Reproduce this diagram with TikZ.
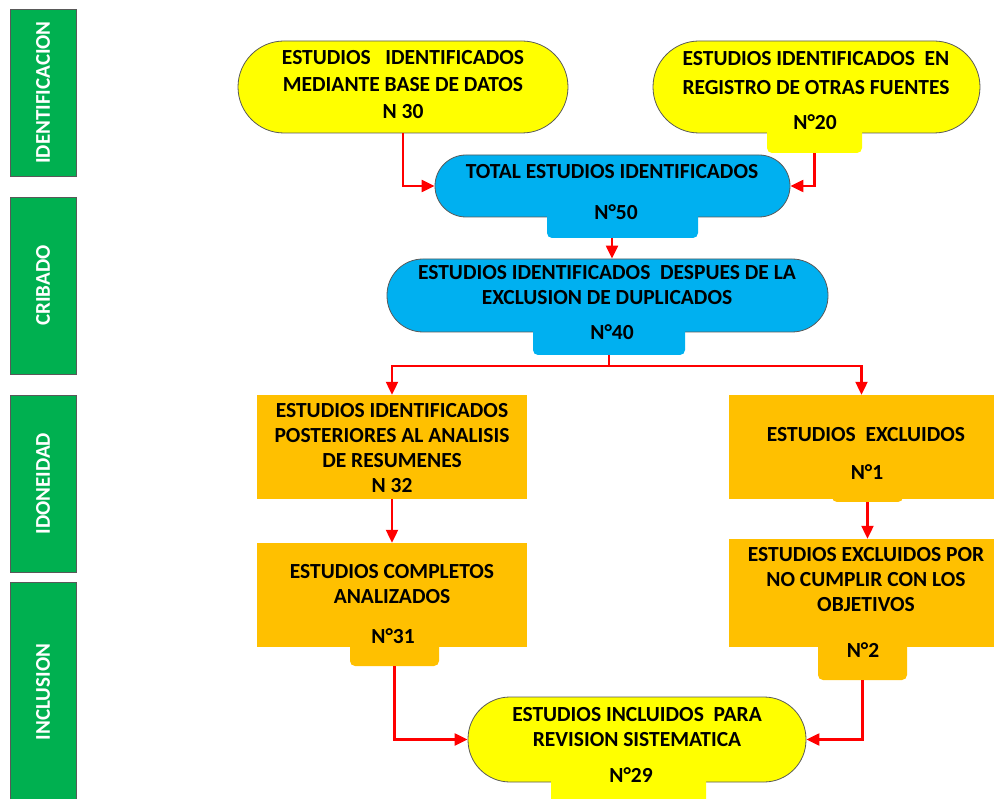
\documentclass[tikz,border=0pt]{standalone}
\usepackage{fontspec}
\setmainfont{Carlito}
\usetikzlibrary{arrows.meta}
\definecolor{ylw}{HTML}{FFFF00}
\definecolor{blu}{HTML}{00B0F0}
\definecolor{org}{HTML}{FFC000}
\definecolor{grn}{HTML}{00B050}
\definecolor{edge}{HTML}{595959}
\begin{document}
\begin{tikzpicture}[x=1pt,y=-1pt,
 stage/.style={draw=edge, line width=0.8pt, fill=grn, minimum width=66pt, inner sep=0pt},
 stagetxt/.style={rotate=90, text=white, font=\bfseries\fontsize{21}{23}\selectfont, inner sep=0pt},
 pill/.style={draw=edge, line width=0.8pt, inner sep=0pt},
 tabbox/.style={rounded corners=5pt, inner sep=0pt},
 boxo/.style={fill=org, inner sep=0pt},
 txt/.style={align=center, font=\bfseries\fontsize{21.5}{25}\selectfont, text=black, inner sep=0pt},
 arr/.style={draw=red, line width=2.2pt, -{Triangle[length=13pt,width=12pt]}}
]
\useasboundingbox (0,0) rectangle (994,799);

% stage bars
\node[stage, minimum height=167pt] (s1) at (43,92.5) {};
\node[stagetxt] (s1t) at (s1.center) {IDENTIFICACION};
\node[stage, minimum height=177pt] (s2) at (43,285.5) {};
\node[stagetxt] (s2t) at (s2.center) {CRIBADO};
\node[stage, minimum height=177pt] (s3) at (43,483.5) {};
\node[stagetxt] (s3t) at (s3.center) {IDONEIDAD};
\node[stage, minimum height=230pt] (s4) at (43,697) {};
\node[stagetxt] (s4t) at (43,692) {INCLUSION};

% top yellow
\node[pill, fill=ylw, minimum width=330pt, minimum height=92pt, rounded corners=46pt] (y1) at (403,87) {};
\node[pill, fill=ylw, minimum width=327pt, minimum height=92pt, rounded corners=46pt] (y2) at (816.5,87) {};
\node[tabbox, fill=ylw, minimum width=95pt, minimum height=33pt] (y2tab) at (814.5,136.5) {};

% blue
\node[pill, fill=blu, minimum width=355pt, minimum height=62pt, rounded corners=31pt] (b1) at (612.5,186) {};
\node[tabbox, fill=blu, minimum width=151pt, minimum height=38pt] (b1tab) at (622.5,219) {};
\node[pill, fill=blu, minimum width=441pt, minimum height=73pt, rounded corners=36pt] (b2) at (607.5,295.5) {};
\node[tabbox, fill=blu, minimum width=152pt, minimum height=40pt] (b2tab) at (609,335) {};

% orange
\node[boxo, minimum width=270pt, minimum height=104pt] (o1) at (392,447) {};
\node[boxo, minimum width=270pt, minimum height=104pt] (o2) at (392,595) {};
\node[tabbox, fill=org, minimum width=89pt, minimum height=32pt] (o2tab) at (394.5,650) {};
\node[boxo, minimum width=265pt, minimum height=104pt] (o3) at (861.5,447) {};
\node[tabbox, fill=org, minimum width=71pt, minimum height=14pt] (o3tab) at (867.5,495) {};
\node[boxo, minimum width=265pt, minimum height=108pt] (o4) at (861.5,593) {};
\node[tabbox, fill=org, minimum width=89pt, minimum height=40pt] (o4tab) at (862.5,660) {};

% final
\node[pill, fill=ylw, minimum width=338pt, minimum height=85pt, rounded corners=42pt] (f) at (637,739.5) {};
\node[tabbox, fill=ylw, minimum width=155pt, minimum height=40pt] (ftab) at (628.5,785) {};

% texts
\node[txt, font=\bfseries\fontsize{21.5}{27}\selectfont] (y1t) at (403,85) {ESTUDIOS\ \ \ IDENTIFICADOS\\MEDIANTE BASE DE DATOS\\N 30};
\node[txt, font=\bfseries\fontsize{21.5}{29}\selectfont] (y2t) at (816,73) {ESTUDIOS IDENTIFICADOS\ \ EN\\REGISTRO DE OTRAS FUENTES};
\node[txt] (y2n) at (815,122) {N°20};
\node[txt] (b1t) at (612,172) {TOTAL ESTUDIOS IDENTIFICADOS};
\node[txt] (b1n) at (616,212) {N°50};
\node[txt] (b2t) at (607,285) {ESTUDIOS IDENTIFICADOS\ \ DESPUES DE LA\\EXCLUSION DE DUPLICADOS};
\node[txt] (b2n) at (612,332) {N°40};
\node[txt] (o1t) at (392,448) {ESTUDIOS IDENTIFICADOS\\POSTERIORES AL ANALISIS\\DE RESUMENES\\N 32};
\node[txt] (o2t) at (392,584) {ESTUDIOS COMPLETOS\\ANALIZADOS};
\node[txt] (o2n) at (393,636) {N°31};
\node[txt] (o3t) at (866,435) {ESTUDIOS\ \ EXCLUIDOS};
\node[txt] (o3n) at (867,472) {N°1};
\node[txt] (o4t) at (866,580) {ESTUDIOS EXCLUIDOS POR\\NO CUMPLIR CON LOS\\OBJETIVOS};
\node[txt] (o4n) at (863,650) {N°2};
\node[txt] (ft) at (637,727.5) {ESTUDIOS INCLUIDOS\ \ PARA\\REVISION SISTEMATICA};
\node[txt] (fn) at (631,775) {N°29};

% connectors
\draw[arr] (y1.south) |- (b1.west);
\draw[arr] (y2tab.south) |- (b1.east);
\coordinate (c1) at (612,238);
\draw[arr] (c1) -- (c1 |- b2.north);
\draw[arr] (b2tab.south) -- ++(0,11) -| (o1.north);
\draw[arr] (b2tab.south) -- ++(0,11) -| (o3.north);
\draw[arr] (o1.south) -- (o2.north);
\draw[arr] (o3tab.south) -- (o3tab.south |- o4.north);
\draw[arr] (o2tab.south) |- (f.west);
\draw[arr] (o4tab.south) |- (f.east);
\end{tikzpicture}
\end{document}
